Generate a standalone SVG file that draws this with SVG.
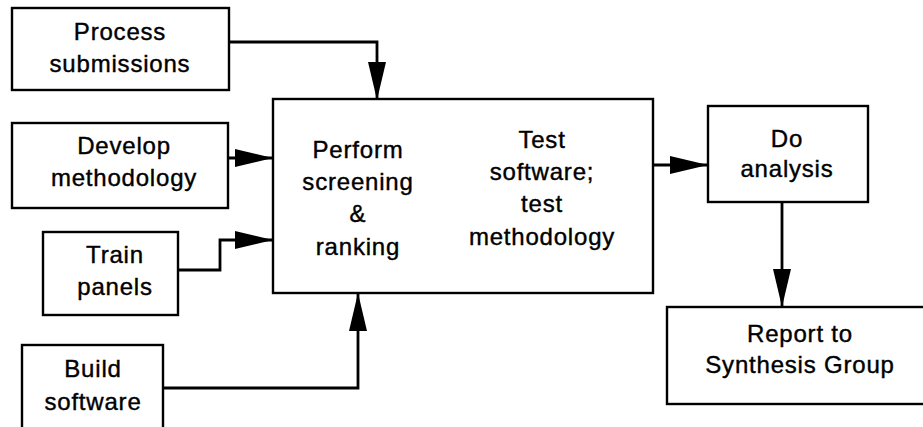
<svg xmlns="http://www.w3.org/2000/svg" width="923" height="427" viewBox="0 0 923 427">
<style>
.box{fill:#fff;stroke:#000;stroke-width:2.4}
.t{font-family:"Liberation Sans",Arial,sans-serif;font-size:24px;letter-spacing:0.8px;fill:#000;stroke:#000;stroke-width:0.4;text-anchor:middle}
.c{fill:none;stroke:#000;stroke-width:2.8}
</style>
<defs>
<marker id="ah" markerUnits="userSpaceOnUse" markerWidth="40" markerHeight="20" refX="38" refY="9" orient="auto">
<path d="M0,0 L38,9 L0,18 Z" fill="#000"/>
</marker>
</defs>
<rect width="923" height="427" fill="#fff"/>
<g id="connectors">
<path class="c" d="M229,42 H377 V100" marker-end="url(#ah)"/>
<path class="c" d="M228,158 H273" marker-end="url(#ah)"/>
<path class="c" d="M178,270 H220 V240 H273" marker-end="url(#ah)"/>
<path class="c" d="M163,388 H358 V293" marker-end="url(#ah)"/>
<path class="c" d="M653,165 H708" marker-end="url(#ah)"/>
<path class="c" d="M782,202 V307" marker-end="url(#ah)"/>
</g>
<g id="process">
<rect class="box" x="12" y="8" width="217" height="82"/>
<text class="t" x="120" y="40">Process</text>
<text class="t" x="120" y="72">submissions</text>
</g>
<g id="develop">
<rect class="box" x="12" y="123" width="216" height="85"/>
<text class="t" x="124" y="154">Develop</text>
<text class="t" x="124" y="186">methodology</text>
</g>
<g id="train">
<rect class="box" x="43" y="232" width="135" height="83"/>
<text class="t" x="115" y="263">Train</text>
<text class="t" x="115" y="295">panels</text>
</g>
<g id="build">
<rect class="box" x="22" y="345" width="141" height="90"/>
<text class="t" x="93" y="377">Build</text>
<text class="t" x="93" y="410">software</text>
</g>
<g id="main">
<rect class="box" x="273" y="99" width="380" height="194"/>
<text class="t" x="358" y="158">Perform</text>
<text class="t" x="358" y="190">screening</text>
<text class="t" x="358" y="222">&amp;</text>
<text class="t" x="358" y="255">ranking</text>
<text class="t" x="542" y="148">Test</text>
<text class="t" x="542" y="180">software;</text>
<text class="t" x="542" y="212">test</text>
<text class="t" x="542" y="245">methodology</text>
</g>
<g id="analysis">
<rect class="box" x="708" y="106" width="160" height="96"/>
<text class="t" x="787" y="147">Do</text>
<text class="t" x="787" y="177">analysis</text>
</g>
<g id="report">
<rect class="box" x="667" y="307" width="270" height="97"/>
<text class="t" x="800" y="342">Report to</text>
<text class="t" x="800" y="373">Synthesis Group</text>
</g>
</svg>
